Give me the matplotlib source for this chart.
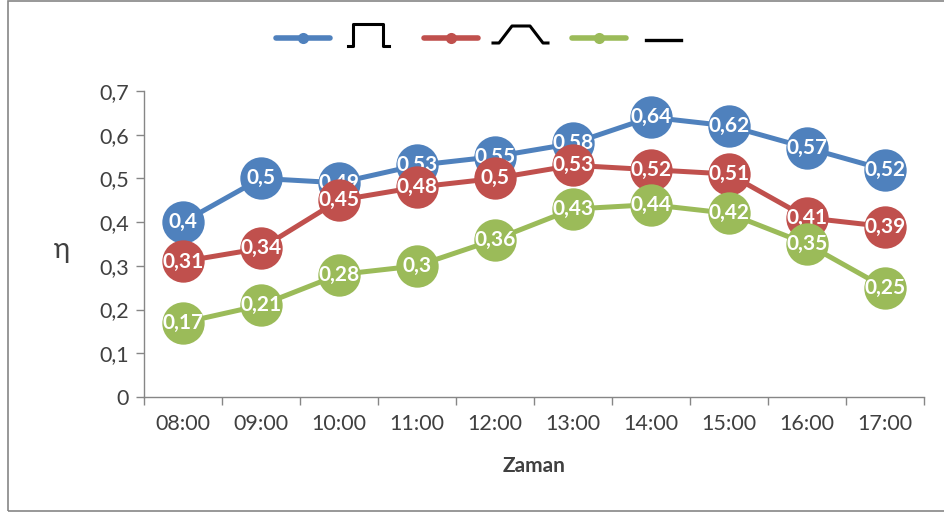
import matplotlib.pyplot as plt
from matplotlib.lines import Line2D
from matplotlib.patches import Rectangle

plt.rcParams['font.family'] = ['Lato', 'DejaVu Sans']

saatler = ['08:00', '09:00', '10:00', '11:00', '12:00',
           '13:00', '14:00', '15:00', '16:00', '17:00']
kare = [0.40, 0.50, 0.49, 0.53, 0.55, 0.58, 0.64, 0.62, 0.57, 0.52]
yamuk = [0.31, 0.34, 0.45, 0.48, 0.50, 0.53, 0.52, 0.51, 0.41, 0.39]
sabit = [0.17, 0.21, 0.28, 0.30, 0.36, 0.43, 0.44, 0.42, 0.35, 0.25]

renkler = ['#4F81BD', '#C0504D', '#9BBB59']
seriler = [kare, yamuk, sabit]

fig = plt.figure(figsize=(9.45, 5.12), dpi=100)
ax = fig.add_axes([144 / 945, 1 - 397 / 512, 780 / 945, 306 / 512])

x = list(range(len(saatler)))
for k, (y, c) in enumerate(zip(seriler, renkler)):
    z = 3 + 3 * k
    ax.plot(x, y, color=c, lw=3.6, zorder=z, solid_capstyle='round')
    ax.plot(x, y, 'o', color=c, ms=30.5, mew=0, zorder=z + 1)
    for xi, yi in zip(x, y):
        etiket = ('%g' % yi).replace('.', ',')
        ax.text(xi, yi, etiket, color='white', fontweight='bold', fontsize=15,
                ha='center', va='center', zorder=z + 2)

ax.set_xlim(-0.5, len(saatler) - 0.5)
ax.set_ylim(0, 0.7)
ax.set_yticks([i / 10 for i in range(8)])
ax.set_yticklabels(['0'] + ['0,%d' % i for i in range(1, 8)])
ax.set_xticks(x)
ax.set_xticklabels(saatler)
ax.set_xticks([i - 0.5 for i in range(len(saatler) + 1)], minor=True)
ax.tick_params(axis='x', which='major', length=0, pad=12, labelsize=15.5, colors='#404040')
ax.tick_params(axis='x', which='minor', length=6, color='#868686', width=1)
ax.tick_params(axis='y', length=6, color='#868686', width=1, pad=5,
               labelsize=15.5, labelcolor='#404040', direction='out')
for s in ['top', 'right']:
    ax.spines[s].set_visible(False)
for s in ['left', 'bottom']:
    ax.spines[s].set_color('#868686')
    ax.spines[s].set_linewidth(1)

ax.set_xlabel('Zaman', fontweight='bold', fontsize=15, color='#404040', labelpad=16)
fig.text(62 / 945, 1 - 250 / 512, 'η', fontsize=20, color='#404040',
         ha='center', va='center')

# legend: coloured series line followed by its signal shape in black
def fx(px):
    return px / 945

def fy(py):
    return 1 - py / 512

for x0, c in [(276, renkler[0]), (424, renkler[1]), (572, renkler[2])]:
    fig.add_artist(Line2D([fx(x0), fx(x0 + 54)], [fy(38), fy(38)], color=c,
                          lw=4, solid_capstyle='round'))
    fig.add_artist(Line2D([fx(x0 + 27)], [fy(38)], marker='o', color=c, ms=8, mew=0))

fig.add_artist(Line2D([fx(348), fx(353), fx(353), fx(383), fx(383), fx(389)],
                      [fy(46), fy(46), fy(24), fy(24), fy(46), fy(46)],
                      color='black', lw=2.2))
fig.add_artist(Line2D([fx(493), fx(499), fx(512), fx(530), fx(543), fx(548)],
                      [fy(43), fy(43), fy(26), fy(26), fy(43), fy(43)],
                      color='black', lw=2.2))
fig.add_artist(Line2D([fx(646), fx(681)], [fy(40), fy(40)], color='black', lw=2.4))

fig.add_artist(Rectangle((8 / 945, 1 / 512), 1.0, 510 / 512, fill=False,
                         edgecolor='#868686', lw=1.2, transform=fig.transFigure))

fig.savefig('out.png', dpi=100)
